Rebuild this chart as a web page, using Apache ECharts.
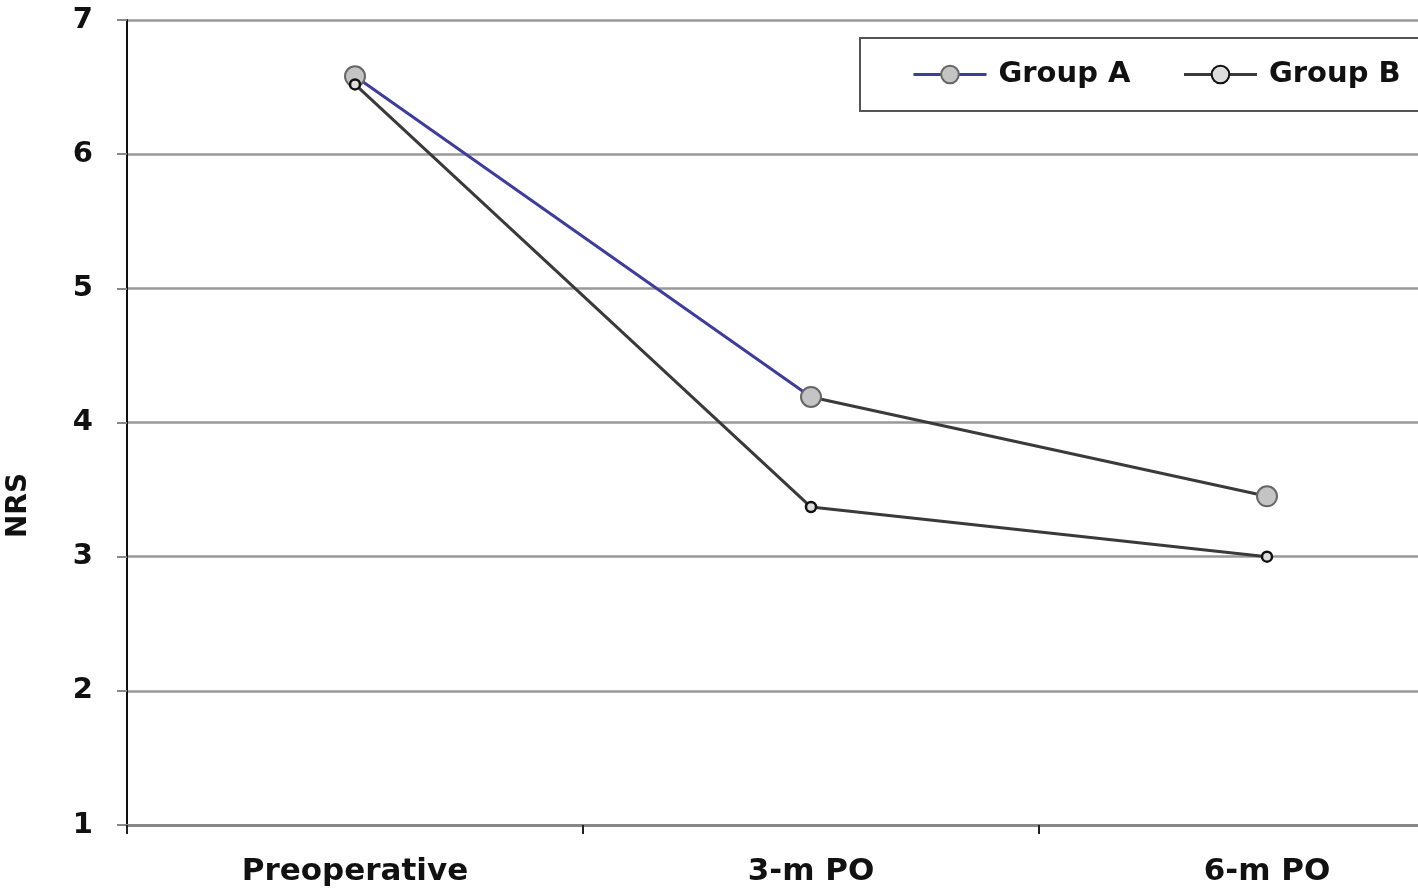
<!DOCTYPE html>
<html><head><meta charset="utf-8">
<script src="https://cdn.jsdelivr.net/npm/echarts@6/dist/echarts.min.js"></script>
<style>html,body{margin:0;padding:0;background:#fff}#c{width:1418px;height:895px}</style>
</head><body><div id="c"></div>
<script>
const categories = ['Preoperative', '3-m PO', '6-m PO'];
const groupA = [6.58, 4.19, 3.45];
const groupB = [6.52, 3.37, 3.0];
const yTicks = [1, 2, 3, 4, 5, 6, 7];

const BLUE = '#3d3d9c', DARK = '#3a3a3a';
const font = '"DejaVu Sans", "Liberation Sans", Arial, sans-serif';
const chart = echarts.init(document.getElementById('c'));
chart.setOption({
  animation: false,
  backgroundColor: '#fff',
  grid: { left: 127, top: 20, height: 805, width: 1368, containLabel: false, outerBoundsMode: 'none' },
  legend: {
    left: 860, top: 38, width: 620,
    padding: [22, 80, 22, 52],
    itemGap: 52, itemWidth: 73, itemHeight: 22,
    borderColor: '#555', borderWidth: 2, backgroundColor: '#fff',
    textStyle: { fontFamily: font, fontWeight: 'bold', fontSize: 29, color: '#111', padding: [0, 0, 0, 7] },
    data: [
      { name: 'Group A', lineStyle: { color: BLUE, width: 3 } },
      { name: 'Group B', lineStyle: { color: DARK, width: 3 } }
    ]
  },
  xAxis: {
    type: 'category', data: categories, boundaryGap: true,
    axisLine: { lineStyle: { color: '#888', width: 3 } },
    axisTick: { show: true, length: 9, lineStyle: { color: '#222', width: 2 } },
    axisLabel: { margin: 31, fontFamily: font, fontWeight: 'bold', fontSize: 31, color: '#111' }
  },
  yAxis: {
    type: 'value', min: 1, max: 7, interval: 1,
    name: 'NRS', nameLocation: 'middle', nameGap: 94, nameRotate: 90,
    nameTextStyle: { fontFamily: font, fontWeight: 'bold', fontSize: 28, color: '#111', padding: [0, 166, 0, 0] },
    axisLine: { show: true, lineStyle: { color: '#111', width: 2 } },
    axisTick: { show: true, length: 10, lineStyle: { color: '#888', width: 2 } },
    axisLabel: { margin: 34, fontFamily: font, fontWeight: 'bold', fontSize: 29, color: '#111',
      formatter: v => yTicks.includes(v) ? String(v) : '' },
    splitLine: { lineStyle: { color: '#999', width: 2.5 } }
  },
  series: [
    {
      name: 'Group A', type: 'line', data: groupA,
      symbol: 'circle', symbolSize: 20, z: 3,
      lineStyle: { width: 3, color: { type: 'linear', x: 0, y: 0, x2: 1, y2: 0,
        colorStops: [ { offset: 0, color: BLUE }, { offset: 0.5, color: BLUE }, { offset: 0.5, color: DARK }, { offset: 1, color: DARK } ] } },
      itemStyle: { color: '#c4c4c4', borderColor: '#666', borderWidth: 2 }
    },
    {
      name: 'Group B', type: 'line', data: groupB,
      symbol: 'circle', symbolSize: 10, z: 4,
      lineStyle: { width: 3, color: DARK },
      itemStyle: { color: '#ddd', borderColor: '#111', borderWidth: 2.5 }
    }
  ]
});
</script></body></html>
